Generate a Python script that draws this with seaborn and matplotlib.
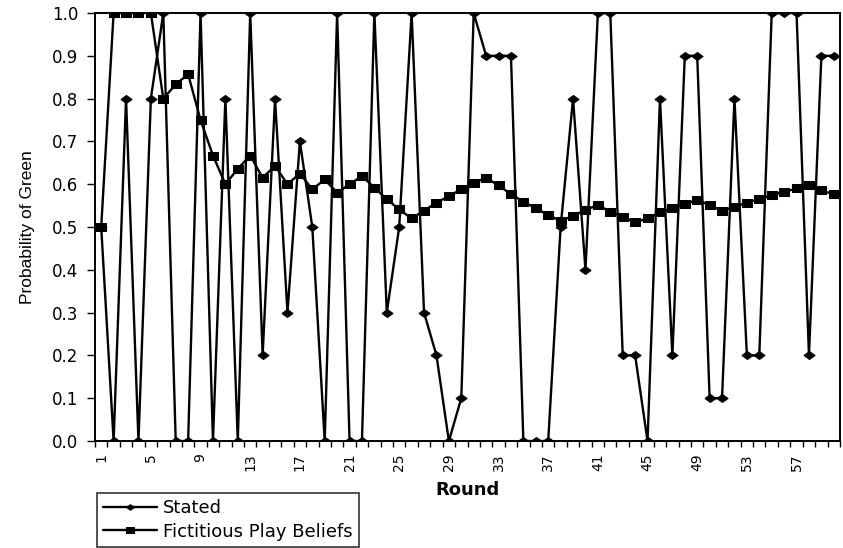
import numpy as np
import pandas as pd
import matplotlib
matplotlib.use("Agg")
import matplotlib.pyplot as plt
import seaborn as sns
from matplotlib.ticker import FixedLocator

rounds = list(range(1, 61))
stated = [0.5, 0.0, 0.8, 0.0, 0.8, 1.0, 0.0, 0.0, 1.0, 0.0,
          0.8, 0.0, 1.0, 0.2, 0.8, 0.3, 0.7, 0.5, 0.0, 1.0,
          0.0, 0.0, 1.0, 0.3, 0.5, 1.0, 0.3, 0.2, 0.0, 0.1,
          1.0, 0.9, 0.9, 0.9, 0.0, 0.0, 0.0, 0.5, 0.8, 0.4,
          1.0, 1.0, 0.2, 0.2, 0.0, 0.8, 0.2, 0.9, 0.9, 0.1,
          0.1, 0.8, 0.2, 0.2, 1.0, 1.0, 1.0, 0.2, 0.9, 0.9]
fictitious = [0.5, 1.0, 1.0, 1.0, 1.0, 0.8, 0.833, 0.857, 0.75, 0.667,
              0.6, 0.636, 0.667, 0.615, 0.643, 0.6, 0.625, 0.588, 0.611, 0.58,
              0.6, 0.619, 0.592, 0.565, 0.541, 0.52, 0.538, 0.557, 0.572, 0.588,
              0.603, 0.615, 0.597, 0.577, 0.559, 0.544, 0.528, 0.514, 0.526, 0.54,
              0.551, 0.536, 0.524, 0.511, 0.52, 0.534, 0.544, 0.554, 0.563, 0.551,
              0.538, 0.547, 0.557, 0.565, 0.575, 0.582, 0.59, 0.598, 0.586, 0.576]
series_names = ["Stated", "Fictitious Play Beliefs"]
xtick_labels = [str(r) for r in range(1, 61, 4)]
ytick_values = [round(0.1 * i, 1) for i in range(11)]

df = pd.DataFrame({
    "Round": rounds * 2,
    "Probability": stated + fictitious,
    "Series": [series_names[0]] * 60 + [series_names[1]] * 60,
})

sns.set_theme(style="white")
plt.rcParams["font.family"] = ["DejaVu Sans"]
for key in ["text.color", "axes.labelcolor", "xtick.color", "ytick.color", "axes.edgecolor"]:
    plt.rcParams[key] = "black"

wide_diamond = [(-1.0, 0.0), (0.0, 0.72), (1.0, 0.0), (0.0, -0.72), (-1.0, 0.0)]
wide_square = [(-1.0, -0.75), (1.0, -0.75), (1.0, 0.75), (-1.0, 0.75), (-1.0, -0.75)]

fig = plt.figure(figsize=(8.43, 5.48), dpi=100)
ax = fig.add_axes([95 / 843, 1 - 441 / 548, 745 / 843, 428 / 548])

sns.lineplot(data=df, x="Round", y="Probability", hue="Series", style="Series",
             markers={"Stated": wide_diamond, "Fictitious Play Beliefs": wide_square},
             dashes=False, palette={"Stated": "black", "Fictitious Play Beliefs": "black"},
             markersize=7, linewidth=1.7, markeredgecolor="black",
             ax=ax, legend=True)
# slightly larger diamonds for the stated series
ax.lines[0].set_markersize(8)

ax.set_xlim(0.5, 60.5)
ax.set_ylim(0, 1.0)
ax.set_yticks(ytick_values)
ax.set_yticklabels([f"{v:.1f}" for v in ytick_values], fontsize=12)
ax.set_xticks(list(range(1, 61, 4)))
ax.set_xticklabels(xtick_labels, rotation=90, fontsize=10)
ax.xaxis.set_minor_locator(FixedLocator([r + 0.5 for r in range(0, 61)]))
ax.tick_params(axis="x", which="major", length=0, pad=9)
ax.tick_params(axis="x", which="minor", length=4, width=1, color="black", direction="out", bottom=True)
ax.tick_params(axis="y", which="major", length=6, width=1, color="black", direction="out", left=True, pad=6)

for sp in ax.spines.values():
    sp.set_color("black")
    sp.set_linewidth(1.4)

ax.set_xlabel("Round", fontsize=13, fontweight="bold", labelpad=7)
ax.set_ylabel("Probability of Green", fontsize=12.5,
              family=["Liberation Sans Narrow", "Liberation Sans", "DejaVu Sans"], labelpad=12)

handles, labels = ax.get_legend_handles_labels()
ax.legend_.remove()
leg = fig.legend(handles, labels, loc="lower left", bbox_to_anchor=(97 / 843, 1 / 548),
                 frameon=True, fancybox=False, edgecolor="black", fontsize=13,
                 handlelength=3.0, borderpad=0.35, borderaxespad=0, labelspacing=0.3,
                 handletextpad=0.3, markerscale=0.8)
leg.get_frame().set_linewidth(1.2)

fig.savefig("out.png", dpi=100)
